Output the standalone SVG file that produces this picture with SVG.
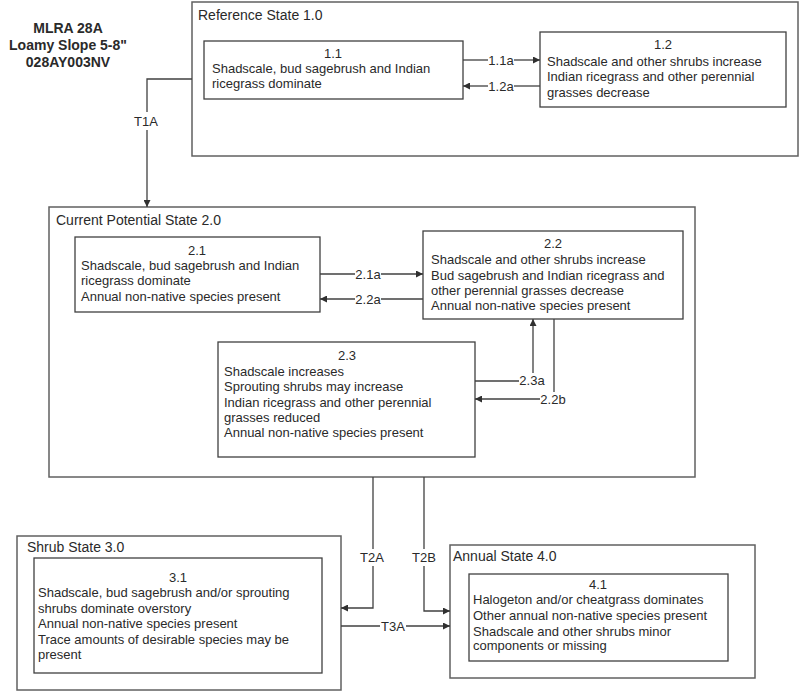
<svg xmlns="http://www.w3.org/2000/svg" width="800" height="692" viewBox="0 0 800 692">
<style>
  .bg { fill: #ffffff; }
  .state { fill: #ffffff; stroke: #606060; stroke-width: 1.5; }
  .node { fill: #ffffff; stroke: #404040; stroke-width: 1.3; }
  .stitle { font-family: "Liberation Sans", Arial, sans-serif; font-size: 14px; fill: #2a2a2a; }
  .t { font-family: "Liberation Sans", Arial, sans-serif; font-size: 13px; fill: #2a2a2a; }
  .c { text-anchor: middle; }
  .title { font-family: "Liberation Sans", Arial, sans-serif; font-size: 14px; font-weight: bold; fill: #2a2a2a; text-anchor: middle; }
  .conn { fill: none; stroke: #404040; stroke-width: 1.3; }
  .lbl { font-family: "Liberation Sans", Arial, sans-serif; font-size: 13px; fill: #2a2a2a; text-anchor: middle; }
</style>
<defs>
  <marker id="arr" viewBox="0 0 10 10" refX="10" refY="5" markerWidth="7" markerHeight="7" markerUnits="userSpaceOnUse" orient="auto">
    <path d="M0,0 L10,5 L0,10 z" fill="#303030"/>
  </marker>
</defs>
<rect class="bg" x="0" y="0" width="800" height="692"/>

<g id="title">
  <text class="title" x="68" y="33">MLRA 28A</text>
  <text class="title" x="68" y="50">Loamy Slope 5-8"</text>
  <text class="title" x="68" y="67">028AY003NV</text>
</g>

<g id="state1">
  <rect class="state" x="192" y="2" width="606" height="154"/>
  <text class="stitle" x="198" y="20">Reference State 1.0</text>
</g>
<g id="node1-1">
  <rect class="node" x="204" y="41" width="259" height="58"/>
  <text class="t c" x="333" y="58">1.1</text>
  <text class="t" x="212" y="73">Shadscale, bud sagebrush and Indian</text>
  <text class="t" x="212" y="88">ricegrass dominate</text>
</g>
<g id="node1-2">
  <rect class="node" x="540" y="32" width="246" height="75"/>
  <text class="t c" x="663" y="49">1.2</text>
  <text class="t" x="547" y="66">Shadscale and other shrubs increase</text>
  <text class="t" x="547" y="81">Indian ricegrass and other perennial</text>
  <text class="t" x="547" y="97">grasses decrease</text>
</g>

<g id="state2">
  <rect class="state" x="49" y="207" width="646" height="270"/>
  <text class="stitle" x="56" y="225">Current Potential State 2.0</text>
</g>
<g id="node2-1">
  <rect class="node" x="75" y="237" width="245" height="75"/>
  <text class="t c" x="197" y="255">2.1</text>
  <text class="t" x="81" y="270">Shadscale, bud sagebrush and Indian</text>
  <text class="t" x="81" y="285">ricegrass dominate</text>
  <text class="t" x="81" y="301">Annual non-native species present</text>
</g>
<g id="node2-2">
  <rect class="node" x="423" y="231" width="260" height="88"/>
  <text class="t c" x="553" y="248">2.2</text>
  <text class="t" x="431" y="264">Shadscale and other shrubs increase</text>
  <text class="t" x="431" y="280">Bud sagebrush and Indian ricegrass and</text>
  <text class="t" x="431" y="295">other perennial grasses decrease</text>
  <text class="t" x="431" y="310">Annual non-native species present</text>
</g>
<g id="node2-3">
  <rect class="node" x="218" y="342" width="257" height="115"/>
  <text class="t c" x="347" y="360">2.3</text>
  <text class="t" x="224" y="376">Shadscale increases</text>
  <text class="t" x="224" y="391">Sprouting shrubs may increase</text>
  <text class="t" x="224" y="407">Indian ricegrass and other perennial</text>
  <text class="t" x="224" y="422">grasses reduced</text>
  <text class="t" x="224" y="437">Annual non-native species present</text>
</g>

<g id="state3">
  <rect class="state" x="17" y="536" width="324" height="154"/>
  <text class="stitle" x="27" y="552">Shrub State 3.0</text>
</g>
<g id="node3-1">
  <rect class="node" x="34" y="558" width="288" height="115"/>
  <text class="t c" x="178" y="582">3.1</text>
  <text class="t" x="38" y="597">Shadscale, bud sagebrush and/or sprouting</text>
  <text class="t" x="38" y="613">shrubs dominate overstory</text>
  <text class="t" x="38" y="628">Annual non-native species present</text>
  <text class="t" x="38" y="644">Trace amounts of desirable species may be</text>
  <text class="t" x="38" y="659">present</text>
</g>

<g id="state4">
  <rect class="state" x="450" y="545" width="305" height="133"/>
  <text class="stitle" x="453" y="561">Annual State 4.0</text>
</g>
<g id="node4-1">
  <rect class="node" x="469" y="574" width="259" height="87"/>
  <text class="t c" x="598" y="589">4.1</text>
  <text class="t" x="473" y="604">Halogeton and/or cheatgrass dominates</text>
  <text class="t" x="473" y="620">Other annual non-native species present</text>
  <text class="t" x="473" y="636">Shadscale and other shrubs minor</text>
  <text class="t" x="473" y="650">components or missing</text>
</g>

<g id="connectors">
  <path class="conn" d="M463,60 H488"/>
  <path class="conn" d="M514,60 H540" marker-end="url(#arr)"/>
  <text class="lbl" x="501" y="65">1.1a</text>
  <path class="conn" d="M540,86 H514"/>
  <path class="conn" d="M488,86 H463" marker-end="url(#arr)"/>
  <text class="lbl" x="501" y="91">1.2a</text>

  <path class="conn" d="M192,79 H147 V112"/>
  <path class="conn" d="M147,130 V207" marker-end="url(#arr)"/>
  <text class="lbl" x="146" y="126">T1A</text>

  <path class="conn" d="M320,274 H355"/>
  <path class="conn" d="M381,274 H423" marker-end="url(#arr)"/>
  <text class="lbl" x="368" y="279">2.1a</text>
  <path class="conn" d="M423,299 H381"/>
  <path class="conn" d="M355,299 H320" marker-end="url(#arr)"/>
  <text class="lbl" x="368" y="304">2.2a</text>

  <path class="conn" d="M475,381 H519"/>
  <path class="conn" d="M533,373 V319" marker-end="url(#arr)"/>
  <text class="lbl" x="532" y="385">2.3a</text>
  <path class="conn" d="M554,319 V392"/>
  <path class="conn" d="M540,399 H475" marker-end="url(#arr)"/>
  <text class="lbl" x="553" y="404">2.2b</text>

  <path class="conn" d="M373,477 V549"/>
  <path class="conn" d="M373,566 V608 H341" marker-end="url(#arr)"/>
  <text class="lbl" x="372" y="562">T2A</text>
  <path class="conn" d="M424,477 V549"/>
  <path class="conn" d="M424,566 V611 H450" marker-end="url(#arr)"/>
  <text class="lbl" x="424" y="562">T2B</text>

  <path class="conn" d="M341,626 H380"/>
  <path class="conn" d="M406,626 H450" marker-end="url(#arr)"/>
  <text class="lbl" x="393" y="631">T3A</text>
</g>
</svg>
